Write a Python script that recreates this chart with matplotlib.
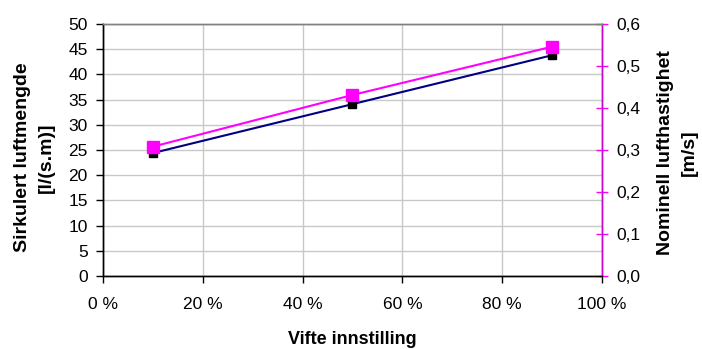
import matplotlib
matplotlib.use("Agg")
import matplotlib.pyplot as plt
from matplotlib.ticker import MultipleLocator, FuncFormatter

plt.rcParams['font.family'] = ['Liberation Sans', 'DejaVu Sans']

# Fan setting (fraction) and measured values
vifte = [0.10, 0.50, 0.90]
luftmengde = [24.4, 34.1, 43.8]        # l/(s.m), left axis
lufthastighet = [0.308, 0.431, 0.546]  # m/s, right axis

x_ticks = [0.0, 0.2, 0.4, 0.6, 0.8, 1.0]

fig = plt.figure(figsize=(7.02, 3.49), dpi=100)
ax = fig.add_axes([103/702, 1 - 276/349, (602-103)/702, (276-24)/349])
ax2 = ax.twinx()

navy = '#000080'
magenta = '#FF00FF'
right_spine = '#CC00CC'
grid_c = '#C8C8C8'

ax.plot(vifte, luftmengde, color=navy, lw=1.5, marker='s', ms=5.5,
        mfc='black', mec='black', zorder=3)
ax2.plot(vifte, lufthastighet, color=magenta, lw=1.5, marker='s', ms=9,
         mfc=magenta, mec=magenta, zorder=4)

ax.set_xlim(0, 1)
ax.set_ylim(0, 50)
ax2.set_ylim(0, 0.6)

ax.set_xticks(x_ticks)
ax.xaxis.set_major_formatter(FuncFormatter(lambda v, p: f"{v*100:.0f} %"))
ax.yaxis.set_major_locator(MultipleLocator(5))
ax2.yaxis.set_major_locator(MultipleLocator(0.1))
ax2.yaxis.set_major_formatter(FuncFormatter(lambda v, p: f"{v:.1f}".replace('.', ',')))

ax.grid(True, color=grid_c, lw=1)
ax.set_axisbelow(True)

for a in (ax, ax2):
    a.spines['top'].set_color('#808080')
    a.spines['left'].set_color('black')
    a.spines['bottom'].set_color('black')
    a.spines['right'].set_color(right_spine)
    for s in a.spines.values():
        s.set_linewidth(1)

ax.tick_params(axis='both', direction='out', length=5, width=1,
               colors='black', labelsize=12.5, pad=6)
ax.tick_params(axis='x', pad=10)
ax2.tick_params(axis='y', direction='inout', length=8, width=1,
                colors=magenta, labelcolor='black', labelsize=12.5, pad=6)

ax.set_xlabel('Vifte innstilling', fontsize=13, fontweight='bold', va='center')
ax.xaxis.set_label_coords(0.5, -0.252)
ax.set_ylabel('Sirkulert luftmengde\n[l/(s.m)]', fontsize=14,
              fontweight='bold', linespacing=1.55, va='center')
ax.yaxis.set_label_coords(-0.138, 0.47)
ax2.set_ylabel('Nominell lufthastighet\n[m/s]', fontsize=14,
               fontweight='bold', rotation=90, linespacing=1.55, va='center')
ax2.yaxis.set_label_coords(1.151, 0.488)

fig.savefig('out.png', dpi=100)
